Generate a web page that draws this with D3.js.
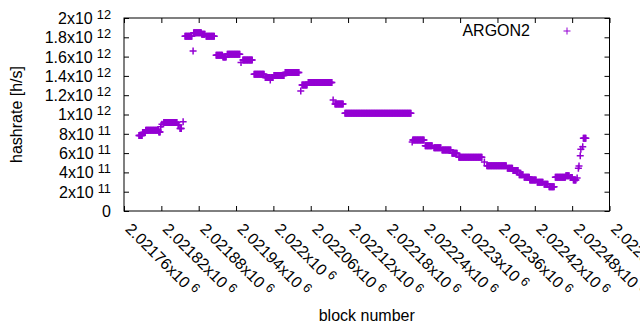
<!doctype html>
<html lang="en">
    <head>
        <meta charset="utf-8">
        <title>ARGON2 hashrate</title>
        <script src="https://d3js.org/d3.v7.min.js"></script>
        <style>
            body { margin: 0; background: #fff; }
            svg text { font-family: "Liberation Sans", Arial, sans-serif; font-size: 16px; fill: #000; }
            .frame { fill: none; stroke: #000; stroke-width: 1; }
            .axis line { stroke: #000; }
            .axis path { display: none; }
            .pt { fill: none; stroke: #9400d3; stroke-width: 1.5; }
        </style>
    </head>
    <body>
        <svg width="640" height="330"></svg>
        <script>
            // tick values
            var xTicks = [2021760, 2021820, 2021880, 2021940, 2022000, 2022060, 2022120,
                          2022180, 2022240, 2022300, 2022360, 2022420, 2022480, 2022540];
            var yTicks = [0, 2e11, 4e11, 6e11, 8e11, 1e12, 1.2e12, 1.4e12, 1.6e12, 1.8e12, 2e12];

            // runs of blocks with the same hashrate (one point per block)
            var runFirst = [2021784, 2021790, 2021795, 2021816, 2021819, 2021821, 2021824, 2021847, 2021850, 2021855,
                            2021858, 2021871, 2021872, 2021885, 2021892, 2021908, 2021919, 2021926, 2021948, 2021951,
                            2021969, 2021987, 2021995, 2021996, 2022001, 2022019, 2022044, 2022046, 2022056, 2022096,
                            2022099, 2022115, 2022223, 2022224, 2022244, 2022258, 2022271, 2022287, 2022298, 2022339,
                            2022343, 2022376, 2022385, 2022395, 2022403, 2022412, 2022424, 2022435, 2022443, 2022453,
                            2022470, 2022477, 2022482, 2022488, 2022490, 2022491, 2022493, 2022494, 2022497, 2022498];
            var runLast  = [2021789, 2021794, 2021815, 2021818, 2021819, 2021821, 2021845, 2021848, 2021852, 2021855,
                            2021869, 2021871, 2021884, 2021890, 2021905, 2021918, 2021924, 2021946, 2021948, 2021966,
                            2021985, 2021994, 2021995, 2021999, 2022017, 2022041, 2022044, 2022054, 2022094, 2022096,
                            2022112, 2022221, 2022223, 2022242, 2022255, 2022269, 2022285, 2022295, 2022335, 2022339,
                            2022374, 2022384, 2022393, 2022401, 2022411, 2022422, 2022433, 2022441, 2022451, 2022469,
                            2022475, 2022480, 2022486, 2022488, 2022490, 2022491, 2022493, 2022494, 2022497, 2022502];
            var runRate  = [7.82e11, 8.13e11, 8.36e11, 8.19e11, 8.74e11, 8.98e11, 9.17e11, 8.91e11, 8.55e11, 9.25e11,
                            1.81e12, 1.658e12, 1.848e12, 1.831e12, 1.81e12, 1.614e12, 1.596e12, 1.624e12, 1.539e12, 1.565e12,
                            1.417e12, 1.383e12, 1.358e12, 1.383e12, 1.404e12, 1.435e12, 1.244e12, 1.306e12, 1.332e12, 1.15e12,
                            1.109e12, 1.012e12, 7.15e11, 7.36e11, 6.77e11, 6.56e11, 6.32e11, 5.98e11, 5.56e11, 5.08e11,
                            4.69e11, 4.42e11, 4.20e11, 3.76e11, 3.49e11, 3.21e11, 2.97e11, 2.77e11, 2.52e11, 3.49e11,
                            3.66e11, 3.47e11, 3.21e11, 3.42e11, 4.42e11, 4.66e11, 5.73e11, 6.39e11, 6.66e11, 7.53e11];

            var points = [];
            runFirst.forEach(function(b0, i) {
                for (var b = b0; b <= runLast[i]; b++) points.push({x: b, y: runRate[i]});
            });

            var svg = d3.select("svg");
            var plot = {left: 124, right: 609.5, top: 18, bottom: 211};

            var xScale = d3.scaleLinear().domain([2021760, 2022540]).range([plot.left, plot.right]);
            var yScale = d3.scaleLinear().domain([0, 2e12]).range([plot.bottom, plot.top]);

            // "2.02176x10^6" style labels
            function sciParts(v) {
                if (v === 0) return ["0", null];
                var e = Math.floor(Math.log10(v) + 1e-9);
                var m = +(v / Math.pow(10, e)).toPrecision(6);
                return [m + "x10", String(e)];
            }
            function writeLabel(sel) {
                sel.each(function(d) {
                    var t = d3.select(this).text(null), p = sciParts(d);
                    t.append("tspan").text(p[0]);
                    if (p[1]) t.append("tspan").attr("dx", 4).attr("dy", -5)
                        .style("font-size", "12.8px").text(p[1]);
                });
            }

            var gy = svg.append("g").attr("class", "axis")
                .attr("transform", "translate(" + plot.left + ",0)")
                .call(d3.axisLeft(yScale).tickValues(yTicks).tickSize(-5).tickSizeOuter(0).tickPadding(13));
            gy.selectAll(".tick text").attr("dy", "0.34em").call(writeLabel);

            svg.append("g").attr("class", "axis")
                .attr("transform", "translate(" + plot.right + ",0)")
                .call(d3.axisRight(yScale).tickValues(yTicks).tickSize(-5).tickSizeOuter(0).tickFormat(""));

            var gx = svg.append("g").attr("class", "axis")
                .attr("transform", "translate(0," + plot.bottom + ")")
                .call(d3.axisBottom(xScale).tickValues(xTicks).tickSize(-5).tickSizeOuter(0));
            gx.selectAll(".tick text")
                .attr("y", null).attr("dy", null)
                .attr("text-anchor", "start")
                .attr("transform", "translate(0,19) rotate(45)")
                .call(writeLabel);

            svg.append("g").attr("class", "axis")
                .attr("transform", "translate(0," + plot.top + ")")
                .call(d3.axisTop(xScale).tickValues(xTicks).tickSize(-5).tickSizeOuter(0).tickFormat(""));

            svg.selectAll(".axis text").attr("font-family", null).attr("font-size", null);

            svg.append("rect").attr("class", "frame")
                .attr("x", plot.left).attr("y", plot.top)
                .attr("width", plot.right - plot.left).attr("height", plot.bottom - plot.top);

            var plus = "M-3.5,0h7M0,-3.5v7";

            svg.append("g").selectAll("path")
                .data(points)
                .enter().append("path")
                .attr("class", "pt")
                .attr("transform", function(d) { return "translate(" + xScale(d.x) + "," + yScale(d.y) + ")"; })
                .attr("d", plus);

            // legend
            svg.append("text").attr("x", 530).attr("y", 36).attr("text-anchor", "end").text("ARGON2");
            svg.append("path").attr("class", "pt").style("stroke-width", 1)
                .attr("transform", "translate(567,31)").attr("d", plus);

            // axis titles
            svg.append("text").attr("x", (plot.left + plot.right) / 2).attr("y", 321)
                .attr("text-anchor", "middle").text("block number");
            svg.append("text").attr("transform", "translate(21.5," + (plot.top + plot.bottom) / 2 + ") rotate(-90)")
                .attr("text-anchor", "middle").text("hashrate [h/s]");
        </script>
    </body>
</html>
